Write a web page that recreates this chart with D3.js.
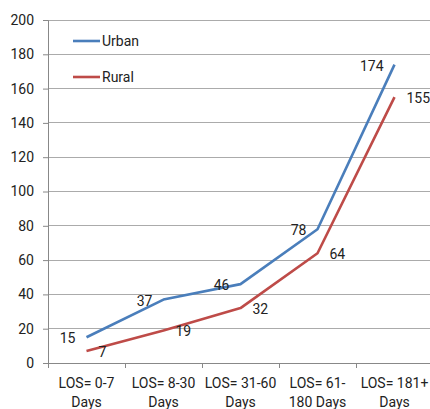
<!DOCTYPE html>
<html>
<head>
<meta charset="utf-8">
<script src="https://cdn.jsdelivr.net/npm/d3@7"></script>
<style>
  html, body { margin: 0; padding: 0; background: #fff; }
  svg text { font-family: "Liberation Sans Narrow", "Arial Narrow", Roboto, sans-serif; fill: #222; }
</style>
</head>
<body>
<svg id="chart" width="430" height="409"></svg>
<script>
// Length-of-stay categories (two text lines each)
const categories = ["LOS= 0-7|Days", "LOS= 8-30|Days", "LOS= 31-60|Days", "LOS= 61-|180 Days", "LOS= 181+|Days"];
const urban = [15, 37, 46, 78, 174];
const rural = [7, 19, 32, 64, 155];
const yTicks = [0, 20, 40, 60, 80, 100, 120, 140, 160, 180, 200];

const series = [
  { name: "Urban", values: urban, color: "#4a7ebb", labelDx: -11, anchor: "end" },
  { name: "Rural", values: rural, color: "#be4b48", labelDx: 12, anchor: "start" }
];

const svg = d3.select("#chart");
const plotLeft = 48, plotRight = 433, plotTop = 20, plotBottom = 363;

const x = d3.scaleBand().domain(categories).range([plotLeft, plotRight]);
const y = d3.scaleLinear().domain([0, 200]).range([plotBottom, plotTop]);

// Horizontal gridlines
svg.append("g").selectAll("line").data(yTicks.filter(d => d > 0)).join("line")
  .attr("x1", plotLeft).attr("x2", 430)
  .attr("y1", d => y(d)).attr("y2", d => y(d))
  .attr("stroke", "#ababab").attr("stroke-width", 1).attr("shape-rendering", "crispEdges");

// Y axis
const yAxis = svg.append("g").attr("transform", `translate(${plotLeft},0)`)
  .call(d3.axisLeft(y).tickValues(yTicks).tickSize(5).tickPadding(9));
yAxis.select(".domain").attr("stroke", "#888");
yAxis.selectAll(".tick line").attr("stroke", "#888");
yAxis.selectAll("text").attr("font-size", 14).style("font-family", null);

// X axis: baseline and category boundary ticks
svg.append("line").attr("x1", plotLeft).attr("x2", 430).attr("y1", plotBottom).attr("y2", plotBottom)
  .attr("stroke", "#888").attr("shape-rendering", "crispEdges");
const bounds = categories.map(c => x(c)).concat([x(categories[4]) + x.bandwidth()]);
svg.append("g").selectAll("line").data(bounds).join("line")
  .attr("x1", d => d).attr("x2", d => d).attr("y1", plotBottom).attr("y2", plotBottom + 5)
  .attr("stroke", "#888").attr("shape-rendering", "crispEdges");

const xl = svg.append("g").selectAll("text").data(categories).join("text")
  .attr("text-anchor", "middle").attr("font-size", 14);
xl.append("tspan").attr("x", d => x(d) + x.bandwidth() / 2).attr("y", 388).text(d => d.split("|")[0]);
xl.append("tspan").attr("x", d => x(d) + x.bandwidth() / 2).attr("y", 407).text(d => d.split("|")[1]);

const cx = (d, i) => x(categories[i]) + x.bandwidth() / 2;
const line = d3.line().x((d, i) => cx(d, i)).y(d => y(d));

series.forEach(s => {
  svg.append("path").datum(s.values)
    .attr("d", line).attr("fill", "none")
    .attr("stroke", s.color).attr("stroke-width", 2.6)
    .attr("stroke-linejoin", "round");
  svg.append("g").selectAll("text").data(s.values).join("text")
    .attr("x", (d, i) => cx(d, i) + s.labelDx)
    .attr("y", d => y(d) + 6)
    .attr("text-anchor", s.anchor).attr("font-size", 14)
    .text(d => d);
});

// Legend
const legend = svg.append("g");
series.forEach((s, i) => {
  const ly = 41 + i * 36;
  legend.append("line").attr("x1", 73).attr("x2", 100).attr("y1", ly).attr("y2", ly)
    .attr("stroke", s.color).attr("stroke-width", 2.6);
  legend.append("text").attr("x", 102).attr("y", ly + 5).attr("font-size", 14).text(s.name);
});
</script>
</body>
</html>
